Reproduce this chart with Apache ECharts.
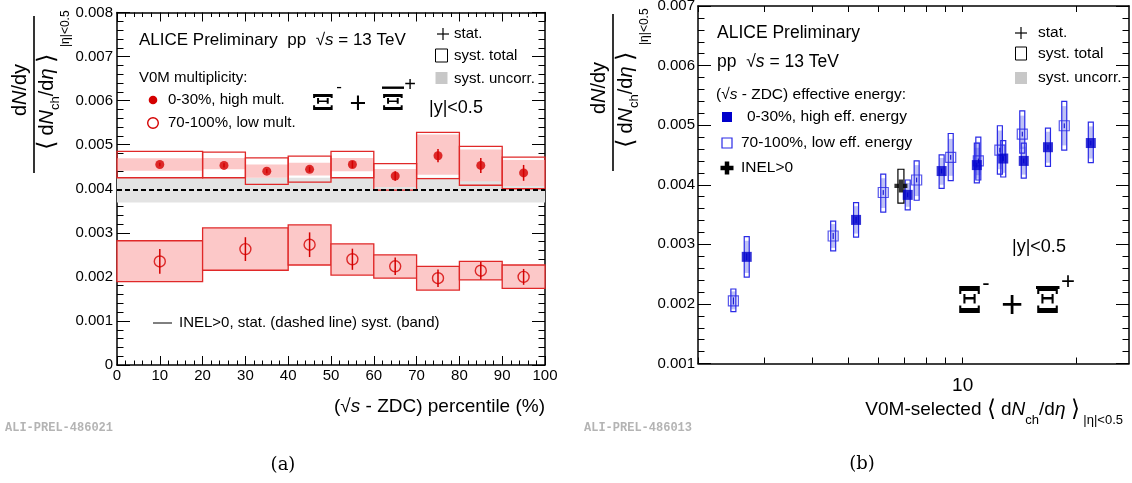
<!DOCTYPE html>
<html><head><meta charset="utf-8">
<script src="https://cdn.jsdelivr.net/npm/echarts@6/dist/echarts.min.js"></script>
<style>html,body{margin:0;padding:0;background:#fff}#c{width:1132px;height:483px}</style>
</head><body><div id="c"></div><script>
// ---------- left panel data: (sqrt(s)-ZDC) percentile ----------
const hmXlo = [0, 20, 30, 40, 50, 60, 70, 80, 90];
const hmXhi = [20, 30, 40, 50, 60, 70, 80, 90, 100];
const hmX   = [10, 25, 35, 45, 55, 65, 75, 85, 95];
const hmY   = [0.00455, 0.00453, 0.00440, 0.00444, 0.00455, 0.00429, 0.00475, 0.00453, 0.00436];
const hmStat = [0.00004, 0.00005, 0.00005, 0.00006, 0.00008, 0.00011, 0.00015, 0.00017, 0.00018];
const hmTotLo = [0.00425, 0.00425, 0.00410, 0.00415, 0.00425, 0.00397, 0.00423, 0.00408, 0.00400];
const hmTotHi = [0.00485, 0.00483, 0.00470, 0.00474, 0.00485, 0.00457, 0.00528, 0.00496, 0.00472];
const hmUncLo = [0.00441, 0.00444, 0.00425, 0.00430, 0.00440, 0.00404, 0.00432, 0.00417, 0.00406];
const hmUncHi = [0.00469, 0.00470, 0.00455, 0.00459, 0.00470, 0.00445, 0.00523, 0.00489, 0.00465];

const lmXlo = [0, 20, 40, 50, 60, 70, 80, 90];
const lmXhi = [20, 40, 50, 60, 70, 80, 90, 100];
const lmX   = [10, 30, 45, 55, 65, 75, 85, 95];
const lmY   = [0.00235, 0.00263, 0.00273, 0.00240, 0.00224, 0.00197, 0.00214, 0.00200];
const lmStat = [0.00028, 0.00027, 0.00028, 0.00024, 0.00020, 0.00020, 0.00020, 0.00018];
const lmTotLo = [0.00189, 0.00215, 0.00227, 0.00204, 0.00197, 0.00170, 0.00193, 0.00174];
const lmTotHi = [0.00282, 0.00311, 0.00318, 0.00275, 0.00250, 0.00224, 0.00235, 0.00227];

const inelLeftY = 0.00397;
const inelBand = [0.00369, 0.00425];

// ---------- right panel data: V0M-selected <dNch/deta> ----------
const hiX = [2.69, 5.23, 7.16, 8.80, 10.9, 12.8, 14.5, 16.8, 21.8];
const hiY = [0.00279, 0.00341, 0.00383, 0.00423, 0.00433, 0.00444, 0.00440, 0.00463, 0.00470];
const hiStat = [0.00006, 0.00005, 0.00004, 0.00004, 0.00004, 0.00004, 0.00004, 0.00004, 0.00004];
const hiTotLo = [0.00245, 0.00312, 0.00358, 0.00394, 0.00403, 0.00413, 0.00411, 0.00431, 0.00437];
const hiTotHi = [0.00313, 0.00370, 0.00408, 0.00450, 0.00470, 0.00474, 0.00470, 0.00495, 0.00505];
const hiUncLo = [0.00252, 0.00318, 0.00363, 0.00400, 0.00410, 0.00420, 0.00417, 0.00437, 0.00444];
const hiUncHi = [0.00306, 0.00364, 0.00403, 0.00445, 0.00462, 0.00468, 0.00464, 0.00489, 0.00498];

const loX = [2.48, 4.55, 6.17, 7.56, 9.30, 11.0, 12.54, 14.37, 18.55];
const loY = [0.00205, 0.00314, 0.00387, 0.00408, 0.00446, 0.00440, 0.00458, 0.00485, 0.00499];
const loStat = [0.00006, 0.00005, 0.00004, 0.00004, 0.00004, 0.00004, 0.00004, 0.00004, 0.00004];
const loTotLo = [0.00187, 0.00289, 0.00354, 0.00374, 0.00407, 0.00408, 0.00418, 0.00453, 0.00458];
const loTotHi = [0.00225, 0.00339, 0.00418, 0.00440, 0.00486, 0.00480, 0.00499, 0.00524, 0.00540];
const loUncLo = [0.00191, 0.00294, 0.00361, 0.00381, 0.00415, 0.00416, 0.00426, 0.00460, 0.00466];
const loUncHi = [0.00221, 0.00334, 0.00411, 0.00433, 0.00477, 0.00472, 0.00491, 0.00516, 0.00532];

const inelX = 6.87, inelY = 0.00398, inelSyst = [0.00369, 0.00426];

const xRangeRight = [2, 27.5];
const xTicksRight = [2, 3, 4, 5, 6, 7, 8, 9, 10, 20];
const xLabelsRight = [10];
const yRangeRight = [0.001, 0.007];

// ---------- styles ----------
const FF = 'Liberation Sans';
const RED = '#d40000', RED_LINE = '#e02828', PINK = '#fcc8c8';
const BLUE = '#0000cc', BLUE_LINE = '#2a2ae6', BLUE_FILL = 'rgba(60,70,225,0.33)';

const chart = echarts.init(document.getElementById('c'));

function boxSeries(xlo, xhi, lo, hi, fill, stroke) {
  return {
    type: 'custom', xAxisIndex: 0, yAxisIndex: 0, silent: true,
    data: xlo.map((v, i) => [v, xhi[i], lo[i], hi[i]]),
    encode: {x: [0, 1], y: [2, 3]},
    renderItem: (p, api) => {
      const a = api.coord([api.value(0), api.value(3)]);
      const b = api.coord([api.value(1), api.value(2)]);
      return {type: 'rect', shape: {x: a[0], y: a[1], width: b[0] - a[0], height: b[1] - a[1]},
        style: {fill: fill, stroke: stroke, lineWidth: stroke ? 1.3 : 0}};
    }
  };
}
function errSeries(xi, yi, xs, ys, es, color, w) {
  return {
    type: 'custom', xAxisIndex: xi, yAxisIndex: yi, silent: true,
    data: xs.map((v, i) => [v, ys[i] - es[i], ys[i] + es[i]]),
    encode: {x: 0, y: [1, 2]},
    renderItem: (p, api) => {
      const a = api.coord([api.value(0), api.value(2)]);
      const b = api.coord([api.value(0), api.value(1)]);
      return {type: 'line', shape: {x1: a[0], y1: a[1], x2: b[0], y2: b[1]}, style: {stroke: color, lineWidth: w}};
    }
  };
}
function narrowBox(xs, lo, hi, w, fill, stroke) {
  return {
    type: 'custom', xAxisIndex: 2, yAxisIndex: 2, silent: true,
    data: xs.map((v, i) => [v, lo[i], hi[i]]),
    encode: {x: 0, y: [1, 2]},
    renderItem: (p, api) => {
      const a = api.coord([api.value(0), api.value(2)]);
      const b = api.coord([api.value(0), api.value(1)]);
      return {type: 'rect', shape: {x: a[0] - w / 2, y: a[1], width: w, height: b[1] - a[1]},
        style: {fill: fill, stroke: stroke, lineWidth: stroke ? 1.2 : 0}};
    }
  };
}

const axisLineStyle = {color: '#000', width: 1.5};
function xAxisLeft(pos, showLabel) {
  return {gridIndex: 0, type: 'value', min: 0, max: 100, interval: 10, position: pos,
    axisLine: {onZero: false, lineStyle: axisLineStyle},
    axisTick: {inside: true, length: 9, lineStyle: {color: '#000', width: 1}},
    minorTick: {show: true, splitNumber: 5, length: 4.5, lineStyle: {color: '#000', width: 1}},
    axisLabel: {show: showLabel, margin: 3, fontSize: 15, color: '#000', fontFamily: FF},
    splitLine: {show: false}, minorSplitLine: {show: false}};
}
function yAxisLeft(pos, showLabel) {
  return {gridIndex: 0, type: 'value', min: 0, max: 0.008, interval: 0.001, position: pos,
    axisLine: {onZero: false, lineStyle: axisLineStyle},
    axisTick: {inside: true, length: 13, lineStyle: {color: '#000', width: 1}},
    minorTick: {show: true, splitNumber: 5, length: 6.5, lineStyle: {color: '#000', width: 1}},
    axisLabel: {show: showLabel, margin: 4, fontSize: 15, color: '#000', fontFamily: FF,
      formatter: v => (Math.abs(v) < 1e-9 ? '0' : v.toFixed(3))},
    splitLine: {show: false}};
}
function xAxisRight(pos, showLabel) {
  return {gridIndex: 1, type: 'log', logBase: 10, min: xRangeRight[0], max: xRangeRight[1], position: pos,
    axisLine: {onZero: false, lineStyle: axisLineStyle},
    axisTick: {show: false},
    minorTick: {show: false},
    axisLabel: {show: showLabel, customValues: xLabelsRight, margin: 13, fontSize: 19, color: '#000', fontFamily: FF},
    splitLine: {show: false}};
}
// companion axis in log10 units that only carries the log tick marks (2..9, 10, 20)
function xTickAxisRight(pos) {
  return {gridIndex: 1, type: 'value', min: Math.log10(xRangeRight[0]), max: Math.log10(xRangeRight[1]), position: pos,
    axisLine: {show: false, onZero: false},
    axisTick: {show: true, inside: true, length: 6, customValues: xTicksRight.map(v => Math.log10(v)),
      lineStyle: {color: '#000', width: 1}},
    minorTick: {show: false},
    axisLabel: {show: false},
    splitLine: {show: false}};
}
function yAxisRight(pos, showLabel) {
  return {gridIndex: 1, type: 'value', min: yRangeRight[0], max: yRangeRight[1], interval: 0.001, position: pos,
    axisLine: {onZero: false, lineStyle: axisLineStyle},
    axisTick: {inside: true, length: 13, lineStyle: {color: '#000', width: 1}},
    minorTick: {show: true, splitNumber: 5, length: 6.5, lineStyle: {color: '#000', width: 1}},
    axisLabel: {show: showLabel, margin: 3, fontSize: 15, color: '#000', fontFamily: FF,
      formatter: v => v.toFixed(3)},
    splitLine: {show: false}};
}

// ---------- text helpers ----------
function rich(size) {
  return {
    n: {fontSize: size, fontFamily: FF, fill: '#000'},
    i: {fontSize: size, fontFamily: FF, fontStyle: 'italic', fill: '#000'}
  };
}
function T(x, y, text, size, opt) {
  opt = opt || {};
  return {type: 'text', x: x, y: y, silent: true, z: 100,
    style: Object.assign({text: text, fontSize: size, fontFamily: FF, fill: '#000',
      align: opt.align || 'left', verticalAlign: 'middle', rich: rich(size)}, opt.style || {})};
}
function yTitle(cx, cy) {
  const r = {
    n: {fontSize: 20, fontFamily: FF, fill: '#000', lineHeight: 30},
    i: {fontSize: 20, fontFamily: FF, fontStyle: 'italic', fill: '#000', lineHeight: 30},
    b: {fontSize: 24, fontFamily: FF, fill: '#000', lineHeight: 30},
    s: {fontSize: 13, fontFamily: FF, fill: '#000', lineHeight: 12, verticalAlign: 'bottom'}
  };
  return {type: 'group', x: cx, y: cy, rotation: Math.PI / 2, silent: true, children: [
    {type: 'line', shape: {x1: -77, y1: 0, x2: 80, y2: 0}, style: {stroke: '#000', lineWidth: 1.6}},
    {type: 'text', x: 6, y: -14, style: {text: '{n|d}{i|N}{n|/dy}', rich: r, align: 'center', verticalAlign: 'middle'}},
    {type: 'text', x: -6, y: 13, style: {text: '{b|⟨}{n| d}{i|N}{s|ch}{n|/d}{i|η}{n| }{b|⟩}', rich: r, align: 'center', verticalAlign: 'middle'}},
    {type: 'text', x: 49, y: 32, style: {text: '|η|<0.5', fontSize: 12, fontFamily: FF, fill: '#000', align: 'left', verticalAlign: 'middle'}}
  ]};
}
// Xi^- + anti-Xi^+ ; p holds absolute positions
function xiSymbol(p) {
  const f = 'bold ' + p.size + 'px DejaVu Serif';
  const mk = (x, y, txt, font, sx) => ({type: 'text', x: x, y: y, z: 100, silent: true, scaleX: sx || 1,
    style: {text: txt, font: font, fill: '#000', align: 'center', verticalAlign: 'middle'}});
  return [
    mk(p.x1, p.y, 'Ξ', f, p.sx),
    mk(p.minus[0], p.minus[1], '-', p.minus[2] + 'px ' + FF),
    mk(p.plus[0], p.plus[1], '+', p.plus[2] + 'px ' + FF),
    mk(p.x2, p.y, 'Ξ', f, p.sx),
    {type: 'rect', z: 100, silent: true, shape: {x: p.bar[0], y: p.bar[1], width: p.bar[2], height: p.bar[3]}, style: {fill: '#000'}},
    mk(p.sup[0], p.sup[1], '+', p.sup[2] + 'px ' + FF)
  ];
}
function plusMark(cx, cy, L, w, color) {
  return [
    {type: 'rect', silent: true, z: 100, shape: {x: cx - L / 2, y: cy - w / 2, width: L, height: w}, style: {fill: color}},
    {type: 'rect', silent: true, z: 100, shape: {x: cx - w / 2, y: cy - L / 2, width: w, height: L}, style: {fill: color}}
  ];
}

const graphics = [].concat(
  // left panel texts
  [T(139, 40, '{n|ALICE Preliminary  pp  √}{i|s}{n| = 13 TeV}', 17),
   T(139, 78, 'V0M multiplicity:', 15),
   {type: 'circle', silent: true, z: 100, shape: {cx: 153, cy: 100, r: 4.3}, style: {fill: RED}},
   T(168, 100, '0-30%, high mult.', 15),
   {type: 'circle', silent: true, z: 100, shape: {cx: 153, cy: 123, r: 5.3}, style: {fill: 'none', stroke: RED, lineWidth: 1.4}},
   T(168, 123, '70-100%, low mult.', 15)],
  plusMark(443, 34, 12, 1.2, '#000'),
  [T(454, 34, 'stat.', 15),
   {type: 'rect', silent: true, z: 100, shape: {x: 435.5, y: 49, width: 12, height: 13}, style: {fill: 'none', stroke: '#000', lineWidth: 1}},
   T(454, 56, 'syst. total', 15),
   {type: 'rect', silent: true, z: 100, shape: {x: 435.5, y: 72, width: 12, height: 12}, style: {fill: '#c8c8c8'}},
   T(454, 79, 'syst. uncorr.', 15),
   T(429, 108, '|y|<0.5', 18),
   {type: 'line', silent: true, z: 100, shape: {x1: 153, y1: 323, x2: 172, y2: 323}, style: {stroke: '#000', lineWidth: 1}},
   T(179, 323, 'INEL>0, stat. (dashed line) syst. (band)', 15),
   T(545, 407, '{n|(√}{i|s}{n| - ZDC) percentile (%)}', 19, {align: 'right'}),
   yTitle(34, 96),
   {type: 'text', x: 5, y: 428, silent: true, style: {text: 'ALI-PREL-486021', font: 'bold 12px Liberation Mono', fill: '#b4b4b4', verticalAlign: 'middle'}},
   {type: 'text', x: 283, y: 465, silent: true, style: {text: '(a)', font: '18px DejaVu Serif', fill: '#000', align: 'center', verticalAlign: 'middle'}}],
  xiSymbol({size: 23, sx: 1.45, x1: 323, x2: 393, y: 104.5, minus: [339, 87, 17], plus: [358, 105, 29], bar: [382, 86.5, 22, 2.4], sup: [410, 85, 20]}),
  // right panel texts
  [T(717, 33, 'ALICE Preliminary', 17.5),
   T(717, 62, '{n|pp  √}{i|s}{n| = 13 TeV}', 17.5),
   T(716, 95, '{n|(√}{i|s}{n| - ZDC) effective energy:}', 15.5),
   {type: 'rect', silent: true, z: 100, shape: {x: 722, y: 112, width: 10, height: 10}, style: {fill: BLUE}},
   T(747, 117, '0-30%, high eff. energy', 15.5),
   {type: 'rect', silent: true, z: 100, shape: {x: 722, y: 138, width: 10, height: 10}, style: {fill: 'none', stroke: BLUE_LINE, lineWidth: 1.2}},
   T(741, 143, '70-100%, low eff. energy', 15.5)],
  plusMark(727, 168, 13, 4.5, '#000'),
  [T(741, 168, 'INEL>0', 15.5)],
  plusMark(1021, 33, 12, 1.2, '#000'),
  [T(1038, 33, 'stat.', 15.5),
   {type: 'rect', silent: true, z: 100, shape: {x: 1015.5, y: 47, width: 11, height: 13}, style: {fill: 'none', stroke: '#000', lineWidth: 1}},
   T(1038, 54, 'syst. total', 15.5),
   {type: 'rect', silent: true, z: 100, shape: {x: 1015, y: 72, width: 12, height: 12}, style: {fill: '#c8c8c8'}},
   T(1038, 78, 'syst. uncorr.', 15.5),
   T(1012, 247, '|y|<0.5', 18),
   yTitle(613, 94),
   {type: 'text', x: 1123, y: 410, silent: true, z: 100, style: {
      text: '{n|V0M-selected }{b|⟨}{n| d}{i|N}{s|ch}{n|/d}{i|η}{n| }{b|⟩}{s| |η|<0.5}', align: 'right', verticalAlign: 'middle',
      rich: {
        n: {fontSize: 19, fontFamily: FF, fill: '#000', lineHeight: 34},
        i: {fontSize: 19, fontFamily: FF, fontStyle: 'italic', fill: '#000', lineHeight: 34},
        b: {fontSize: 23, fontFamily: FF, fill: '#000', lineHeight: 34},
        s: {fontSize: 13, fontFamily: FF, fill: '#000', lineHeight: 13, verticalAlign: 'bottom'}
      }}},
   {type: 'text', x: 584, y: 428, silent: true, style: {text: 'ALI-PREL-486013', font: 'bold 12px Liberation Mono', fill: '#b4b4b4', verticalAlign: 'middle'}},
   {type: 'text', x: 862, y: 464, silent: true, style: {text: '(b)', font: '18px DejaVu Serif', fill: '#000', align: 'center', verticalAlign: 'middle'}}],
  xiSymbol({size: 37, sx: 0.95, x1: 969.5, x2: 1047.5, y: 303, minus: [986, 284, 22], plus: [1012, 307, 38], bar: [1036, 286, 23.5, 3], sup: [1068, 282, 24]})
);

const option = {
  animation: false,
  backgroundColor: '#fff',
  grid: [
    {left: 117, top: 12.5, width: 428, height: 352.5, containLabel: false, outerBoundsMode: 'none'},
    {left: 698, top: 6, width: 431, height: 357.5, containLabel: false, outerBoundsMode: 'none'}
  ],
  xAxis: [xAxisLeft('bottom', true), xAxisLeft('top', false), xAxisRight('bottom', true), xAxisRight('top', false),
    xTickAxisRight('bottom'), xTickAxisRight('top')],
  yAxis: [yAxisLeft('left', true), yAxisLeft('right', false), yAxisRight('left', true), yAxisRight('right', false)],
  series: [
    // left panel
    boxSeries([0], [100], [inelBand[0]], [inelBand[1]], '#e3e3e3', null),
    {type: 'line', xAxisIndex: 0, yAxisIndex: 0, data: [[0, inelLeftY], [100, inelLeftY]], symbol: 'none', silent: true,
      lineStyle: {color: '#000', width: 2, type: [5, 3]}},
    boxSeries(hmXlo, hmXhi, hmUncLo, hmUncHi, PINK, null),
    boxSeries(hmXlo, hmXhi, hmTotLo, hmTotHi, 'none', RED_LINE),
    boxSeries(lmXlo, lmXhi, lmTotLo, lmTotHi, PINK, RED_LINE),
    errSeries(0, 0, hmX, hmY, hmStat, RED, 1.5),
    errSeries(0, 0, lmX, lmY, lmStat, RED, 1.5),
    {type: 'scatter', xAxisIndex: 0, yAxisIndex: 0, data: hmX.map((v, i) => [v, hmY[i]]), symbol: 'circle', symbolSize: 9,
      itemStyle: {color: RED}, silent: true},
    {type: 'scatter', xAxisIndex: 0, yAxisIndex: 0, data: lmX.map((v, i) => [v, lmY[i]]), symbol: 'circle', symbolSize: 11,
      itemStyle: {color: 'rgba(0,0,0,0)', borderColor: RED, borderWidth: 1.4}, silent: true},
    // right panel
    narrowBox(loX, loUncLo, loUncHi, 5, BLUE_FILL, null),
    narrowBox(hiX, hiUncLo, hiUncHi, 5, BLUE_FILL, null),
    narrowBox(loX, loTotLo, loTotHi, 5, 'none', BLUE_LINE),
    narrowBox(hiX, hiTotLo, hiTotHi, 5, 'none', BLUE_LINE),
    narrowBox([inelX], [inelSyst[0]], [inelSyst[1]], 6, 'none', '#000'),
    errSeries(2, 2, loX, loY, loStat, BLUE, 1),
    errSeries(2, 2, hiX, hiY, hiStat, BLUE, 1),
    {type: 'scatter', xAxisIndex: 2, yAxisIndex: 2, data: loX.map((v, i) => [v, loY[i]]), symbol: 'rect', symbolSize: 10,
      itemStyle: {color: 'rgba(0,0,0,0)', borderColor: BLUE_LINE, borderWidth: 1.2}, silent: true},
    {type: 'scatter', xAxisIndex: 2, yAxisIndex: 2, data: hiX.map((v, i) => [v, hiY[i]]), symbol: 'rect', symbolSize: 10,
      itemStyle: {color: BLUE}, silent: true},
    {type: 'scatter', xAxisIndex: 2, yAxisIndex: 2, data: [[inelX, inelY]], silent: true,
      symbol: 'path://M4,0H8V4H12V8H8V12H4V8H0V4H4Z', symbolSize: 13, itemStyle: {color: '#000'}}
  ],
  graphic: graphics
};
chart.setOption(option);
</script></body></html>
